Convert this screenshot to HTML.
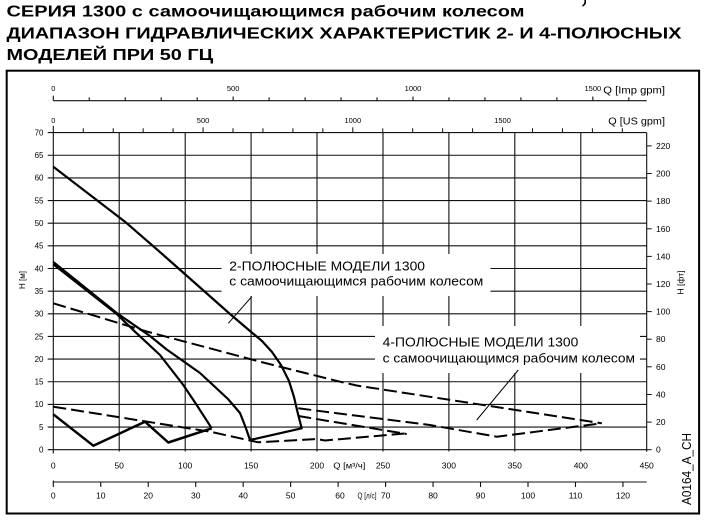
<!DOCTYPE html>
<html><head><meta charset="utf-8"><style>
html,body{margin:0;padding:0;background:#fff;}
svg{display:block;}
text{font-family:"Liberation Sans","DejaVu Sans",sans-serif;fill:#000;}
</style></head><body>
<svg width="713" height="522" viewBox="0 0 713 522" xmlns="http://www.w3.org/2000/svg">
<rect width="713" height="522" fill="#fff"/>
<!-- title -->
<g font-weight="bold" font-size="16">
<text x="6.5" y="16.7" textLength="518" lengthAdjust="spacingAndGlyphs">СЕРИЯ 1300 с самоочищающимся рабочим колесом</text>
<text x="6.5" y="38.3" textLength="675" lengthAdjust="spacingAndGlyphs">ДИАПАЗОН ГИДРАВЛИЧЕСКИХ ХАРАКТЕРИСТИК 2- И 4-ПОЛЮСНЫХ</text>
<text x="6.5" y="60" textLength="206.6" lengthAdjust="spacingAndGlyphs">МОДЕЛЕЙ ПРИ 50 ГЦ</text>
</g>
<path d="M585,0 Q586,4 582.5,6" stroke="#000" stroke-width="1.6" fill="none"/>
<!-- outer frame -->
<rect x="6.7" y="70.7" width="692.4" height="442.8" fill="none" stroke="#000" stroke-width="2"/>

<!-- grid horizontal -->
<g stroke="#111" stroke-width="1.1">
<line x1="47.7" y1="449.7" x2="646.7" y2="449.7"/>
<line x1="47.7" y1="427.05" x2="646.7" y2="427.05"/>
<line x1="47.7" y1="404.4" x2="646.7" y2="404.4"/>
<line x1="47.7" y1="381.75" x2="646.7" y2="381.75"/>
<line x1="47.7" y1="359.1" x2="646.7" y2="359.1"/>
<line x1="47.7" y1="336.45" x2="646.7" y2="336.45"/>
<line x1="47.7" y1="313.8" x2="646.7" y2="313.8"/>
<line x1="47.7" y1="291.15" x2="646.7" y2="291.15"/>
<line x1="47.7" y1="268.5" x2="646.7" y2="268.5"/>
<line x1="47.7" y1="245.85" x2="646.7" y2="245.85"/>
<line x1="47.7" y1="223.2" x2="646.7" y2="223.2"/>
<line x1="47.7" y1="200.55" x2="646.7" y2="200.55"/>
<line x1="47.7" y1="177.9" x2="646.7" y2="177.9"/>
<line x1="47.7" y1="155.25" x2="646.7" y2="155.25"/>
<line x1="47.7" y1="132.6" x2="646.7" y2="132.6"/>
</g>
<!-- grid vertical -->
<g stroke="#111" stroke-width="1.1">
<line x1="53.3" y1="125.7" x2="53.3" y2="453.5"/>
<line x1="119.2" y1="132.6" x2="119.2" y2="451.5"/>
<line x1="185.2" y1="132.6" x2="185.2" y2="451.5"/>
<line x1="251.1" y1="132.6" x2="251.1" y2="451.5"/>
<line x1="317.0" y1="132.6" x2="317.0" y2="451.5"/>
<line x1="383.0" y1="132.6" x2="383.0" y2="451.5"/>
<line x1="448.9" y1="132.6" x2="448.9" y2="451.5"/>
<line x1="514.8" y1="132.6" x2="514.8" y2="451.5"/>
<line x1="580.8" y1="132.6" x2="580.8" y2="451.5"/>
<line x1="646.7" y1="132.6" x2="646.7" y2="451.7"/>
</g>
<!-- right ft ticks -->
<g stroke="#111" stroke-width="1">
<line x1="646.7" y1="449.7" x2="651.7" y2="449.7"/>
<line x1="646.7" y1="422.1" x2="651.7" y2="422.1"/>
<line x1="646.7" y1="394.5" x2="651.7" y2="394.5"/>
<line x1="646.7" y1="366.8" x2="651.7" y2="366.8"/>
<line x1="646.7" y1="339.2" x2="651.7" y2="339.2"/>
<line x1="646.7" y1="311.6" x2="651.7" y2="311.6"/>
<line x1="646.7" y1="284.0" x2="651.7" y2="284.0"/>
<line x1="646.7" y1="256.4" x2="651.7" y2="256.4"/>
<line x1="646.7" y1="228.8" x2="651.7" y2="228.8"/>
<line x1="646.7" y1="201.1" x2="651.7" y2="201.1"/>
<line x1="646.7" y1="173.5" x2="651.7" y2="173.5"/>
<line x1="646.7" y1="145.9" x2="651.7" y2="145.9"/>
</g>
<!-- US gpm ticks -->
<g stroke="#111" stroke-width="1">
<line x1="83.25" y1="128.3" x2="83.25" y2="132.6"/>
<line x1="113.2" y1="128.3" x2="113.2" y2="132.6"/>
<line x1="143.15" y1="128.3" x2="143.15" y2="132.6"/>
<line x1="173.1" y1="128.3" x2="173.1" y2="132.6"/>
<line x1="203.05" y1="127.3" x2="203.05" y2="132.6"/>
<line x1="233.0" y1="128.3" x2="233.0" y2="132.6"/>
<line x1="262.95" y1="128.3" x2="262.95" y2="132.6"/>
<line x1="292.9" y1="128.3" x2="292.9" y2="132.6"/>
<line x1="322.85" y1="128.3" x2="322.85" y2="132.6"/>
<line x1="352.8" y1="127.3" x2="352.8" y2="132.6"/>
<line x1="382.75" y1="128.3" x2="382.75" y2="132.6"/>
<line x1="412.7" y1="128.3" x2="412.7" y2="132.6"/>
<line x1="442.65" y1="128.3" x2="442.65" y2="132.6"/>
<line x1="472.6" y1="128.3" x2="472.6" y2="132.6"/>
<line x1="502.55" y1="127.3" x2="502.55" y2="132.6"/>
<line x1="532.5" y1="128.3" x2="532.5" y2="132.6"/>
<line x1="562.45" y1="128.3" x2="562.45" y2="132.6"/>
<line x1="592.4" y1="128.3" x2="592.4" y2="132.6"/>
<line x1="622.35" y1="128.3" x2="622.35" y2="132.6"/>
</g>
<!-- Imp gpm axis -->
<g stroke="#111" stroke-width="1.1">
<line x1="53.3" y1="100.7" x2="646.7" y2="100.7"/>
<line x1="53.3" y1="95.7" x2="53.3" y2="100.7"/>
<line x1="89.27" y1="97.3" x2="89.27" y2="100.7"/>
<line x1="125.24" y1="97.3" x2="125.24" y2="100.7"/>
<line x1="161.21" y1="97.3" x2="161.21" y2="100.7"/>
<line x1="197.18" y1="97.3" x2="197.18" y2="100.7"/>
<line x1="233.15" y1="96.5" x2="233.15" y2="100.7"/>
<line x1="269.12" y1="97.3" x2="269.12" y2="100.7"/>
<line x1="305.09" y1="97.3" x2="305.09" y2="100.7"/>
<line x1="341.06" y1="97.3" x2="341.06" y2="100.7"/>
<line x1="377.03" y1="97.3" x2="377.03" y2="100.7"/>
<line x1="413.0" y1="96.5" x2="413.0" y2="100.7"/>
<line x1="448.97" y1="97.3" x2="448.97" y2="100.7"/>
<line x1="484.94" y1="97.3" x2="484.94" y2="100.7"/>
<line x1="520.91" y1="97.3" x2="520.91" y2="100.7"/>
<line x1="556.88" y1="97.3" x2="556.88" y2="100.7"/>
<line x1="592.85" y1="96.5" x2="592.85" y2="100.7"/>
<line x1="628.82" y1="97.3" x2="628.82" y2="100.7"/>
</g>
<!-- l/s axis -->
<g stroke="#111" stroke-width="1.1">
<line x1="53.3" y1="482" x2="646.7" y2="482"/>
<line x1="53.3" y1="480.5" x2="53.3" y2="487"/>
<line x1="100.77" y1="482" x2="100.77" y2="487"/>
<line x1="148.24" y1="482" x2="148.24" y2="487"/>
<line x1="195.71" y1="482" x2="195.71" y2="487"/>
<line x1="243.18" y1="482" x2="243.18" y2="487"/>
<line x1="290.65" y1="482" x2="290.65" y2="487"/>
<line x1="338.12" y1="482" x2="338.12" y2="487"/>
<line x1="385.59" y1="482" x2="385.59" y2="487"/>
<line x1="433.06" y1="482" x2="433.06" y2="487"/>
<line x1="480.53" y1="482" x2="480.53" y2="487"/>
<line x1="528.0" y1="482" x2="528.0" y2="487"/>
<line x1="575.47" y1="482" x2="575.47" y2="487"/>
<line x1="622.94" y1="482" x2="622.94" y2="487"/>
</g>

<!-- white label boxes -->
<rect x="221.5" y="254" width="269" height="42" fill="#fff"/>
<rect x="375" y="326" width="265" height="47" fill="#fff"/>

<!-- dashed 4-pole curves -->
<g fill="none" stroke="#000" stroke-width="2" stroke-dasharray="13 5" stroke-linejoin="round">
<path d="M53.3,303.3 L146.7,331.5 L260,361.7 L340,381.7 L356.7,385.5 L601.7,423.3"/>
<path d="M298.3,408.3 L430,425 L496.7,436.7 L601.7,423.3"/>
<path d="M298.3,416 L406.7,434"/>
<path d="M53.3,406.7 L210,431.7 L250,440.5 L258.3,442.3 L316.7,439 L325,440.5 L406.7,433.3"/>
</g>

<!-- solid 2-pole curves -->
<g fill="none" stroke="#000" stroke-width="2.2" stroke-linejoin="round">
<path d="M53.3,166.7 L125,221.7 L163.3,255 L230,314 L250,331 L262,341 L272,352 L281,365 L289,381 L294,397 L297.5,412 L301.7,428.3 L250,440"/>
<path d="M53.3,262 L116.7,313 L150,336 L166.7,349.5 L200,373 L228,399 L240,413 L245.5,427 L250,440"/>
<path d="M53.3,264.3 L116.7,314 L135,331.7 L160,355 L183.3,385 L196.7,405 L211.7,428.3"/>
<path d="M211.7,428.3 L168.3,442.5 L145,421.7 L93.3,445.7 L53.3,414.3" stroke-width="2.5"/>
</g>

<!-- leaders -->
<g stroke="#000" stroke-width="1">
<line x1="251.7" y1="296.7" x2="228.3" y2="323.3"/>
<line x1="518.3" y1="370" x2="476.7" y2="420"/>
</g>

<!-- annotation text -->
<g font-size="12.5">
<text x="229.3" y="270.7" textLength="195.7" lengthAdjust="spacingAndGlyphs">2-ПОЛЮСНЫЕ МОДЕЛИ 1300</text>
<text x="229.3" y="285.7" textLength="254" lengthAdjust="spacingAndGlyphs">с самоочищающимся рабочим колесом</text>
<text x="382.7" y="346.7" textLength="195.6" lengthAdjust="spacingAndGlyphs">4-ПОЛЮСНЫЕ МОДЕЛИ 1300</text>
<text x="382.7" y="362.5" textLength="252.3" lengthAdjust="spacingAndGlyphs">с самоочищающимся рабочим колесом</text>
</g>

<!-- left labels -->
<g font-size="8" text-anchor="end">
<text x="43.5" y="452.5">0</text>
<text x="43.5" y="429.9">5</text>
<text x="43.5" y="407.2">10</text>
<text x="43.5" y="384.6">15</text>
<text x="43.5" y="361.9">20</text>
<text x="43.5" y="339.3">25</text>
<text x="43.5" y="316.6">30</text>
<text x="43.5" y="294">35</text>
<text x="43.5" y="271.3">40</text>
<text x="43.5" y="248.7">45</text>
<text x="43.5" y="226">50</text>
<text x="43.5" y="203.4">55</text>
<text x="43.5" y="180.7">60</text>
<text x="43.5" y="158.1">65</text>
<text x="43.5" y="135.4">70</text>
</g>
<text x="0" y="0" font-size="8" text-anchor="middle" transform="translate(25,280) rotate(-90)">H [м]</text>

<!-- right labels -->
<g font-size="8.5">
<text x="656" y="452.7">0</text>
<text x="656" y="425.1">20</text>
<text x="656" y="397.5">40</text>
<text x="656" y="369.8">60</text>
<text x="656" y="342.2">80</text>
<text x="656" y="314.6">100</text>
<text x="656" y="287">120</text>
<text x="656" y="259.4">140</text>
<text x="656" y="231.8">160</text>
<text x="656" y="204.1">180</text>
<text x="656" y="176.5">200</text>
<text x="656" y="148.9">220</text>
</g>
<text x="0" y="0" font-size="8.5" text-anchor="middle" transform="translate(683.5,282.5) rotate(-90)">H [фт]</text>
<text x="0" y="0" font-size="12.5" text-anchor="middle" textLength="72" lengthAdjust="spacingAndGlyphs" transform="translate(691,469) rotate(-90)">A0164_A_CH</text>

<!-- bottom m3/h labels -->
<g font-size="8.5" text-anchor="middle">
<text x="53.3" y="468.7">0</text>
<text x="119.2" y="468.7">50</text>
<text x="185.2" y="468.7">100</text>
<text x="251.1" y="468.7">150</text>
<text x="317.0" y="468.7">200</text>
<text x="383.0" y="468.7">250</text>
<text x="448.9" y="468.7">300</text>
<text x="514.8" y="468.7">350</text>
<text x="580.8" y="468.7">400</text>
<text x="646.7" y="468.7">450</text>
</g>
<text x="333.3" y="468.7" font-size="8" textLength="32" lengthAdjust="spacingAndGlyphs">Q [м³/ч]</text>

<!-- l/s labels -->
<g font-size="8.5" text-anchor="middle">
<text x="53.3" y="498.7">0</text>
<text x="100.77" y="498.7">10</text>
<text x="148.24" y="498.7">20</text>
<text x="195.71" y="498.7">30</text>
<text x="243.18" y="498.7">40</text>
<text x="290.65" y="498.7">50</text>
<text x="340" y="498.7">60</text>
<text x="385.59" y="498.7">70</text>
<text x="433.06" y="498.7">80</text>
<text x="480.53" y="498.7">90</text>
<text x="528.0" y="498.7">100</text>
<text x="575.47" y="498.7">110</text>
<text x="622.94" y="498.7">120</text>
</g>
<text x="357.5" y="498.7" font-size="8" textLength="19" lengthAdjust="spacingAndGlyphs">Q [л/с]</text>

<!-- top labels -->
<g font-size="7.5" text-anchor="middle">
<text x="53.3" y="91">0</text>
<text x="233.15" y="91">500</text>
<text x="413.0" y="91">1000</text>
<text x="592.85" y="91">1500</text>
<text x="53.3" y="122.8">0</text>
<text x="203.05" y="122.8">500</text>
<text x="352.8" y="122.8">1000</text>
<text x="502.55" y="122.8">1500</text>
</g>
<text x="603.3" y="93.5" font-size="10.5" textLength="61.7" lengthAdjust="spacingAndGlyphs">Q [Imp gpm]</text>
<text x="608.3" y="124.5" font-size="10.5" textLength="56.7" lengthAdjust="spacingAndGlyphs">Q [US gpm]</text>
</svg>
</body></html>
